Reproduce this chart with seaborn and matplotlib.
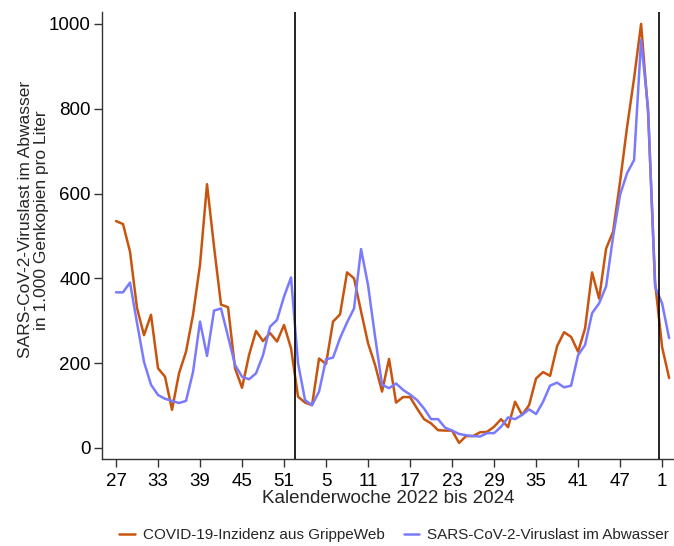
import matplotlib
matplotlib.use("Agg")
import matplotlib.pyplot as plt
import numpy as np
import pandas as pd
import seaborn as sns

# Calendar weeks: 2022 KW27 .. 2024 KW2
weeks_2022 = list(range(27, 53))
weeks_2023 = list(range(1, 53))
weeks_2024 = [1, 2]
week_labels = weeks_2022 + weeks_2023 + weeks_2024

tick_labels = ["27", "33", "39", "45", "51", "5", "11", "17", "23", "29",
               "35", "41", "47", "1"]

# COVID-19 incidence from GrippeWeb (scaled to the wastewater axis)
grippeweb = [535, 528, 463, 330, 266, 314, 188, 168, 90, 176,
             227, 314, 432, 622, 475, 338, 332, 188, 142, 219,
             276, 252, 271, 251, 290, 235, 121, 107, 101, 211,
             198, 298, 315, 414, 400, 322, 247, 196, 133, 210,
             107, 120, 120, 93, 68, 58, 42, 41, 41, 12,
             28, 28, 37, 38, 50, 68, 49, 109, 78, 101,
             164, 179, 170, 240, 273, 262, 227, 282, 414, 352,
             470, 510, 628, 757, 872, 1000, 790, 390, 238, 165]

# SARS-CoV-2 viral load in wastewater (1,000 gene copies per litre)
abwasser = [367, 367, 390, 295, 203, 149, 125, 116, 111, 106,
            111, 179, 298, 217, 324, 329, 263, 196, 168, 162,
            176, 219, 286, 302, 357, 402, 200, 113, 101, 133,
            209, 213, 259, 296, 329, 469, 384, 263, 149, 141,
            152, 137, 126, 113, 93, 68, 68, 48, 41, 33,
            30, 28, 27, 35, 35, 50, 72, 68, 78, 91,
            80, 109, 147, 154, 143, 147, 219, 243, 318, 341,
            381, 498, 597, 648, 679, 962, 800, 380, 341, 259]

label_gw = "COVID-19-Inzidenz aus GrippeWeb"
label_aw = "SARS-CoV-2-Viruslast im Abwasser"

n = len(week_labels)
idx = np.arange(n)
df = pd.DataFrame({
    "pos": np.concatenate([idx, idx]),
    "wert": grippeweb + abwasser,
    "reihe": [label_gw] * n + [label_aw] * n,
})

sns.set_style("ticks")
plt.rcParams["font.family"] = ["Liberation Sans", "DejaVu Sans"]

fig = plt.figure(figsize=(6.74, 5.46), dpi=100)
ax = fig.add_axes([102 / 674, (546 - 459) / 546, (674 - 102) / 674, (459 - 12) / 546])

palette = {label_gw: "#C8550F", label_aw: "#7A7AFF"}
sns.lineplot(data=df, x="pos", y="wert", hue="reihe", hue_order=[label_gw, label_aw],
             palette=palette, linewidth=1.8, ax=ax, legend=True)

# Year boundaries
for i in range(1, n):
    if week_labels[i] < week_labels[i - 1]:
        ax.axvline(i - 0.5, color="black", linewidth=1.2, zorder=3)

ax.set_xlim(-2, 79.7)
ax.set_ylim(-26, 1028)
ax.set_xticks(idx[::6][:len(tick_labels)])
ax.set_xticklabels(tick_labels)
ax.set_yticks([0, 200, 400, 600, 800, 1000])

ax.tick_params(axis="both", direction="out", length=6, width=1, color="#333333",
               labelsize=13.5, colors="black")
ax.tick_params(axis="x", pad=4)
ax.tick_params(axis="y", pad=2)

for s in ["top", "right"]:
    ax.spines[s].set_visible(False)
for s in ["left", "bottom"]:
    ax.spines[s].set_color("#333333")
    ax.spines[s].set_linewidth(1)

ax.set_xlabel("Kalenderwoche 2022 bis 2024", fontsize=13.5, labelpad=0)
ax.set_ylabel("SARS-CoV-2-Viruslast im Abwasser\nin 1.000 Genkopien pro Liter",
              fontsize=12.5, linespacing=1.15)
ax.yaxis.set_label_coords(-0.092, 0.535)

handles, labels = ax.get_legend_handles_labels()
ax.get_legend().remove()
fig.legend(handles, labels, loc="lower center", bbox_to_anchor=(0.585, -0.018),
           ncol=2, frameon=False, fontsize=11, handlelength=1.0,
           columnspacing=1.25, handletextpad=0.55)

fig.savefig("out.png", dpi=100)
